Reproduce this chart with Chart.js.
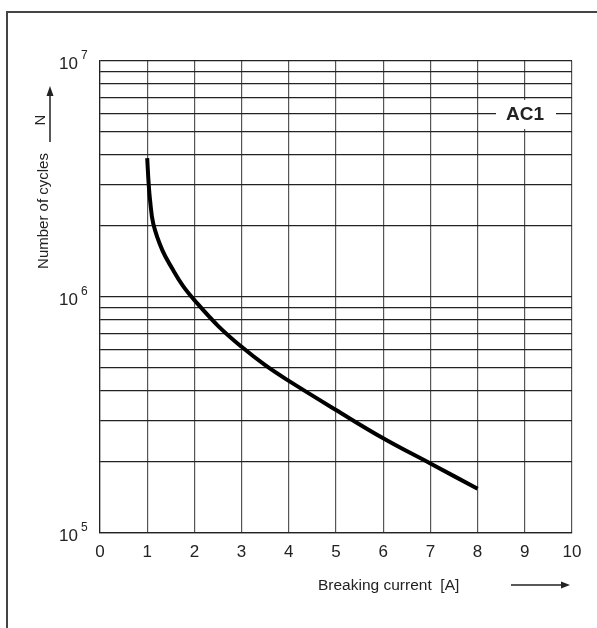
<!DOCTYPE html>
<html>
<head>
<meta charset="utf-8">
<script src="https://cdn.jsdelivr.net/npm/chart.js@4"></script>
<style>
  body { margin: 0; background: #fff; }
  #wrap { width: 597px; height: 628px; }
</style>
</head>
<body>
<div id="wrap"><canvas id="grafico" width="597" height="628"></canvas></div>
<script>
// datos (curva AC1)
const corriente = [1.0, 1.03, 1.06, 1.13, 1.32, 1.53, 1.75, 2.0, 2.5, 3.0, 3.5, 4.0, 5.0, 6.0, 7.0, 8.0];
const ciclos = [3.88e6, 3.04e6, 2.58e6, 2.04e6, 1.58e6, 1.32e6, 1.12e6, 9.70e5, 7.55e5, 6.15e5, 5.14e5, 4.41e5, 3.32e5, 2.52e5, 1.97e5, 1.54e5];

// ejes
const xTicks = [0, 1, 2, 3, 4, 5, 6, 7, 8, 9, 10];
const yGrid = [1e5, 2e5, 3e5, 4e5, 5e5, 6e5, 7e5, 8e5, 9e5,
               1e6, 2e6, 3e6, 4e6, 5e6, 6e6, 7e6, 8e6, 9e6, 1e7];
const yLabels = [[1e5, "5"], [1e6, "6"], [1e7, "7"]];

const fuente = "'Liberation Sans', Arial, sans-serif";
const tinta = "#222";

const puntos = corriente.map((c, i) => ({ x: c, y: ciclos[i] }));

// textos, flechas y marco
const extras = {
    id: "extras",
    beforeDraw(chart) {
        const ctx = chart.ctx;
        ctx.save();
        ctx.fillStyle = "#fff";
        ctx.fillRect(0, 0, chart.width, chart.height);
        ctx.restore();
    },
    afterDraw(chart) {
        const ctx = chart.ctx;
        const xs = chart.scales.x;
        const ys = chart.scales.y;
        ctx.save();
        ctx.fillStyle = tinta;
        ctx.strokeStyle = tinta;

        // marco exterior
        ctx.lineWidth = 2;
        ctx.strokeStyle = "#444";
        ctx.beginPath();
        ctx.moveTo(7, chart.height);
        ctx.lineTo(7, 12);
        ctx.lineTo(chart.width, 12);
        ctx.stroke();
        ctx.strokeStyle = tinta;

        // etiquetas eje x
        ctx.font = "17px " + fuente;
        ctx.textAlign = "center";
        ctx.textBaseline = "middle";
        xTicks.forEach(v => ctx.fillText(String(v), xs.getPixelForValue(v), 552));

        // etiquetas eje y (10^n)
        yLabels.forEach(([v, exp]) => {
            const py = ys.getPixelForValue(v) + 3;
            ctx.font = "17px " + fuente;
            ctx.textAlign = "right";
            ctx.fillText("10", 78, py);
            ctx.font = "12px " + fuente;
            ctx.textAlign = "left";
            ctx.fillText(exp, 81, py - 8);
        });

        // titulo eje x y flecha
        ctx.font = "15.5px " + fuente;
        ctx.textAlign = "left";
        ctx.fillText("Breaking current  [A]", 318, 586);
        ctx.lineWidth = 1.5;
        ctx.beginPath();
        ctx.moveTo(511, 585);
        ctx.lineTo(562, 585);
        ctx.stroke();
        ctx.beginPath();
        ctx.moveTo(570, 585);
        ctx.lineTo(561, 581.5);
        ctx.lineTo(561, 588.5);
        ctx.closePath();
        ctx.fill();

        // titulo eje y y flecha
        ctx.save();
        ctx.translate(44, 211);
        ctx.rotate(-Math.PI / 2);
        ctx.font = "15px " + fuente;
        ctx.textAlign = "center";
        ctx.fillText("Number of cycles", 0, 0);
        ctx.restore();
        ctx.save();
        ctx.translate(41, 120);
        ctx.rotate(-Math.PI / 2);
        ctx.font = "15px " + fuente;
        ctx.textAlign = "center";
        ctx.fillText("N", 0, 0);
        ctx.restore();
        ctx.beginPath();
        ctx.moveTo(50, 142);
        ctx.lineTo(50, 95);
        ctx.stroke();
        ctx.beginPath();
        ctx.moveTo(50, 86);
        ctx.lineTo(46.5, 96);
        ctx.lineTo(53.5, 96);
        ctx.closePath();
        ctx.fill();

        // rotulo AC1
        ctx.fillStyle = "#fff";
        ctx.fillRect(496, 100, 60, 29);
        ctx.fillStyle = tinta;
        ctx.font = "bold 19px " + fuente;
        ctx.textAlign = "center";
        ctx.fillText("AC1", 525, 115);
        ctx.restore();
    }
};

const config = {
    type: "line",
    data: {
        datasets: [{
            label: "AC1",
            data: puntos,
            borderColor: "#000",
            borderWidth: 4,
            borderCapStyle: "butt",
            borderJoinStyle: "round",
            pointRadius: 0,
            tension: 0.4,
            fill: false
        }]
    },
    options: {
        responsive: false,
        animation: false,
        events: [],
        layout: { padding: { left: 100, right: 25, top: 61, bottom: 95 } },
        plugins: { legend: { display: false }, tooltip: { enabled: false } },
        scales: {
            x: {
                type: "linear",
                min: 0,
                max: 10,
                afterBuildTicks: s => { s.ticks = xTicks.map(v => ({ value: v })); },
                ticks: { display: false },
                grid: { color: "#555", lineWidth: 1.2, drawTicks: false },
                border: { display: true, color: tinta, width: 1.2 }
            },
            y: {
                type: "logarithmic",
                min: 1e5,
                max: 1e7,
                afterBuildTicks: s => { s.ticks = yGrid.map(v => ({ value: v })); },
                ticks: { display: false },
                grid: { color: "#222", lineWidth: 1.2, drawTicks: false },
                border: { display: true, color: tinta, width: 1.2 }
            }
        }
    },
    plugins: [extras]
};

new Chart(document.getElementById("grafico").getContext("2d"), config);
</script>
</body>
</html>
